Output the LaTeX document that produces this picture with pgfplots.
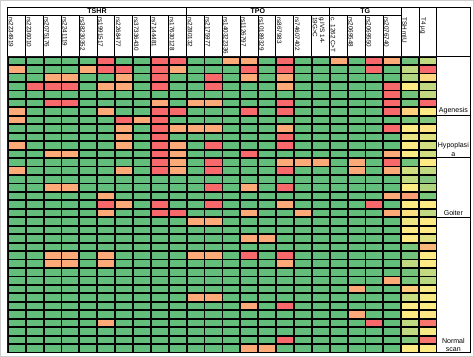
\documentclass[border=0pt]{standalone}
\usepackage{pgfplots}
\usepackage{pgfplotstable}
\pgfplotsset{compat=1.18}
\usepackage{fontspec}
\setmainfont{Liberation Sans}
% one value per cell, row by row (35 rows x 24 columns)
% 0 = green, 1.5 = orange, 2 = red ; last two columns (TSH, T4) graded
\pgfplotstableread[row sep=\\]{
v\\
0\\0\\0\\0\\0\\2\\0\\0\\2\\2\\0\\0\\1.5\\1.5\\0\\2\\0\\0\\1.5\\0\\2\\1.5\\0.1\\0.6\\
1.5\\0\\0\\0\\1.5\\2\\2\\0\\2\\1.5\\0\\0\\0\\2\\0\\2\\0\\0\\0\\0\\2\\0\\0.6\\2\\
0\\0\\1.5\\1.5\\0\\0\\1.5\\0\\2\\0\\0\\2\\0\\1.5\\0\\1.5\\0\\0\\0\\0\\0\\0\\0.5\\1.15\\
0\\2\\2\\2\\0\\1.5\\1.5\\0\\2\\0\\0\\2\\0\\0\\0\\1.5\\0\\0\\0\\0\\0\\2\\1\\0.6\\
0\\0\\0\\0\\0\\0\\0\\0\\0\\0\\0\\0\\0\\0\\0\\0\\0\\0\\0\\0\\0\\2\\0.1\\0.6\\
0\\0\\2\\2\\0\\0\\0\\0\\1.5\\0\\1.5\\1.5\\0\\0\\0\\2\\0\\0\\0\\0\\0\\2\\0.1\\2\\
1.5\\0\\0\\0\\0\\1.5\\0\\0\\2\\2\\0\\0\\0\\2\\0\\2\\0\\0\\0\\0\\0\\2\\1.2\\1\\
1.5\\0\\0\\0\\0\\0\\2\\1.5\\2\\0\\0\\0\\0\\0\\0\\0\\0\\0\\0\\0\\0\\0\\0.15\\0.2\\
0\\0\\0\\0\\0\\0\\1.5\\0\\2\\1.5\\1.5\\1.5\\0\\0\\0\\1.5\\0\\0\\0\\0\\0\\2\\1\\1.05\\
0\\0\\0\\0\\0\\0\\1.5\\0\\2\\0\\0\\0\\0\\0\\0\\2\\0\\0\\0\\0\\0\\0\\0.85\\0.8\\
1.5\\0\\0\\0\\0\\0\\1.5\\0\\2\\1.5\\0\\2\\0\\0\\0\\2\\0\\0\\0\\0\\0\\0\\1\\0.7\\
0\\0\\1.5\\1.5\\0\\0\\0\\0\\2\\1.5\\0\\0\\0\\2\\0\\0\\0\\0\\0\\0\\0\\1.5\\1\\0.7\\
0\\0\\0\\0\\0\\0\\0\\0\\2\\1.5\\0\\2\\0\\0\\0\\1.5\\1.5\\1.5\\0\\1.5\\0\\2\\0.1\\1\\
1.5\\0\\0\\0\\0\\0\\1.5\\0\\2\\1.5\\0\\2\\0\\0\\0\\2\\0\\0\\0\\1.5\\0\\1.5\\0.7\\0.6\\
0\\0\\0\\0\\0\\0\\0\\0\\0\\0\\0\\0\\0\\0\\0\\0\\0\\0\\0\\0\\0\\0\\0.6\\0.2\\
0\\0\\1.5\\1.5\\0\\0\\0\\0\\0\\0\\0\\2\\0\\1.5\\0\\2\\0\\0\\0\\0\\0\\0\\1\\0.5\\
0\\0\\0\\0\\0\\1.5\\0\\0\\0\\0\\0\\0\\0\\0\\0\\0\\0\\0\\0\\0\\0\\1.5\\1.6\\0.15\\
0\\0\\0\\0\\0\\2\\1.5\\0\\2\\0\\0\\2\\0\\0\\0\\1.5\\0\\0\\0\\0\\2\\0\\1\\1\\
0\\0\\0\\0\\0\\1.5\\0\\0\\2\\2\\0\\0\\0\\1.5\\0\\0\\1.5\\0\\0\\0\\0\\1.5\\1.1\\0.6\\
0\\0\\0\\0\\0\\0\\0\\0\\0\\0\\1.5\\1.5\\0\\0\\0\\0\\0\\0\\0\\0\\0\\0\\0.9\\1\\
0\\0\\0\\0\\0\\0\\0\\0\\0\\0\\0\\0\\0\\0\\0\\0\\0\\0\\0\\0\\0\\0\\1\\1\\
0\\0\\0\\0\\0\\0\\0\\0\\0\\0\\0\\0\\0\\1.5\\1.5\\0\\0\\0\\0\\0\\0\\0\\1\\0.8\\
0\\0\\0\\0\\0\\0\\0\\0\\0\\0\\0\\0\\0\\0\\0\\0\\0\\0\\0\\0\\0\\0\\0.15\\1.4\\
0\\0\\1.5\\1.5\\0\\1.5\\0\\0\\0\\0\\1.5\\1.5\\0\\2\\0\\2\\0\\0\\0\\0\\0\\0\\0.1\\1\\
0\\0\\1.5\\1.5\\0\\1.5\\0\\0\\0\\0\\0\\0\\0\\0\\0\\1.5\\0\\0\\0\\0\\0\\0\\0.6\\1\\
0\\0\\0\\0\\0\\0\\0\\0\\0\\0\\0\\0\\0\\0\\0\\0\\0\\0\\0\\0\\0\\0\\0.1\\0.6\\
0\\0\\0\\0\\0\\0\\0\\0\\0\\0\\0\\0\\0\\0\\0\\0\\0\\0\\0\\0\\0\\1.5\\0.15\\0.55\\
0\\0\\0\\0\\0\\0\\0\\0\\0\\0\\0\\0\\0\\0\\0\\0\\0\\0\\0\\1.5\\0\\0\\1.25\\0.95\\
0\\0\\0\\0\\0\\0\\0\\0\\0\\0\\1.5\\1.5\\0\\0\\0\\0\\0\\0\\0\\0\\0\\0\\0.65\\0.95\\
0\\0\\0\\0\\0\\0\\0\\0\\0\\0\\0\\0\\0\\1.5\\0\\2\\0\\0\\0\\0\\0\\0\\1\\1\\
0\\0\\0\\0\\0\\0\\0\\0\\0\\0\\0\\0\\0\\0\\0\\0\\0\\0\\0\\1.5\\0\\0\\1\\1.05\\
0\\0\\0\\0\\0\\1.5\\0\\0\\0\\0\\0\\0\\0\\0\\0\\0\\0\\0\\0\\0\\2\\0\\0.6\\1.9\\
0\\0\\0\\0\\0\\0\\0\\0\\0\\0\\0\\0\\0\\0\\0\\0\\0\\0\\0\\0\\0\\0\\0.6\\0.95\\
0\\0\\0\\0\\0\\0\\0\\0\\0\\0\\0\\0\\0\\0\\0\\2\\0\\0\\0\\0\\0\\0\\0.2\\1.9\\
0\\0\\0\\0\\0\\0\\0\\0\\0\\0\\0\\0\\0\\1.5\\1.5\\0\\0\\0\\0\\0\\0\\0\\1\\1\\
}\hm
\newcommand{\hdr}{\fontsize{6.3}{7.2}\selectfont}
\newcommand{\colL}[1]{7.5+17.77*(#1-1)+0.7}
\begin{document}
\begin{tikzpicture}
\begin{axis}[
  scale only axis, width=474pt, height=357pt,
  xmin=0, xmax=474, ymin=0, ymax=357, y dir=reverse,
  hide axis, clip=false,
  colormap={hm}{rgb255(0)=(99,190,123) rgb255(1)=(255,235,132) rgb255(2)=(248,105,107)},
  point meta min=0, point meta max=2,
]
% dark background: shows through the gaps between cells as the grid lines
\fill[black!90] (axis cs:7.0,55.6) rectangle (axis cs:434.5,350.5);
\addplot[scatter, only marks, mark=square*, mark size=3.8pt,
  mark options={xscale=2.233},
  scatter/use mapped color={draw=none, fill=mapped color},
  point meta=explicit]
  table[x index=0, y index=0,
        x expr={7.5+17.77*(mod(\coordindex,24)+0.5)},
        y expr={56+8.4*(floor((\coordindex+0.5)/24)+0.5)}, meta index=0]{\hm};
% outer light frame
\draw[black!20, line width=1pt] (axis cs:0.5,0.5) rectangle (axis cs:470.5,354);
% header grid
\pgfplotsinvokeforeach{0,...,24}{
  \draw[line width=0.7pt] (axis cs:{7.5+17.77*#1},15) -- (axis cs:{7.5+17.77*#1},56);
}
\pgfplotsinvokeforeach{0,10,18,22,23,24}{
  \draw[line width=0.7pt] (axis cs:{7.5+17.77*#1},7) -- (axis cs:{7.5+17.77*#1},15.3);
}
\draw[line width=0.7pt] (axis cs:7.15,7) -- (axis cs:467,7);
\draw[line width=0.7pt] (axis cs:7.5,15) -- (axis cs:398.4,15);
\draw[line width=0.7pt] (axis cs:434,56) -- (axis cs:467,56);
\draw[line width=0.7pt] (axis cs:467,7) -- (axis cs:467,350.5);
\draw[line width=0.7pt] (axis cs:434,350.1) -- (axis cs:467.35,350.1);
\draw[line width=0.7pt] (axis cs:434,114.8) -- (axis cs:467,114.8);
\draw[line width=0.7pt] (axis cs:434,156.8) -- (axis cs:467,156.8);
\draw[line width=0.7pt] (axis cs:434,215.6) -- (axis cs:467,215.6);
% group titles
\node[font=\bfseries\fontsize{7}{8}\selectfont] at (axis cs:96.4,11.2) {TSHR};
\node[font=\bfseries\fontsize{7}{8}\selectfont] at (axis cs:256.3,11.2) {TPO};
\node[font=\bfseries\fontsize{7}{8}\selectfont] at (axis cs:362.9,11.2) {TG};
% column headers
\pgfplotsforeachungrouped \j/\t in {1/rs2234919,2/rs2236010,3/rs2075176,4/rs2241119,5/rs38230352,6/rs1991517,7/rs2268477,8/rs37336430,9/rs7144481,10/rs17630128,11/rs2280132,12/rs2175977,13/rs140322336,14/rs1126797,15/rs10189329,16/rs867983,17/rs74607402,19/c. 1262 C>T,20/rs2069548,21/rs2069550,22/rs2076740,23/TSH mIU/L,24/T4 µg/dL}{
  \edef\tmp{\noexpand\node[rotate=-90, anchor=south west, inner sep=0.4pt, font=\noexpand\hdr] at (axis cs:{\colL{\j}},16.5) {\t};}
  \tmp
}
\node[rotate=-90, anchor=south west, inner sep=0.4pt, font=\hdr, align=left] at (axis cs:{\colL{18}},16.5) {g.IVS 14-\\19G>C};
% group labels
\node[font=\fontsize{7}{8.5}\selectfont] at (axis cs:450.5,110.3) {Agenesis};
\node[font=\fontsize{7}{8.5}\selectfont, align=center] at (axis cs:450.5,148.3) {Hypoplasi\\a};
\node[font=\fontsize{7}{8.5}\selectfont] at (axis cs:450.5,211.3) {Goiter};
\node[font=\fontsize{7}{8.5}\selectfont, align=center] at (axis cs:450.5,343) {Normal\\scan};
\end{axis}
\end{tikzpicture}
\end{document}
